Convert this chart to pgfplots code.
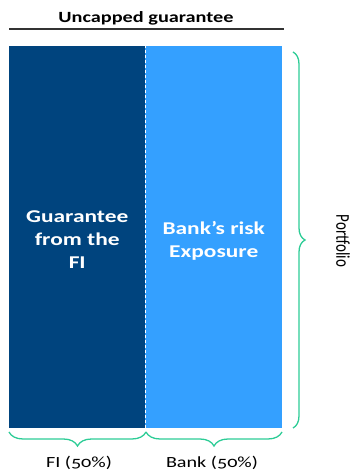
\documentclass[border=0pt]{standalone}
\usepackage{pgfplots}
\pgfplotsset{compat=1.18}
\usepackage{graphicx}
\usepackage{fontspec}
\setmainfont{Carlito}[Numbers=OldStyle]
\usetikzlibrary{decorations.pathreplacing}
\definecolor{darkb}{RGB}{0,68,126}
\definecolor{lightb}{RGB}{52,160,255}
\definecolor{brgreen}{RGB}{45,204,150}
\begin{document}
\begin{tikzpicture}
\path[use as bounding box] (0pt,0pt) rectangle (353pt,472pt);
\begin{axis}[at={(9pt,44pt)}, anchor=south west, scale only axis,
  width=273pt, height=382pt, xmin=0, xmax=2, ymin=0, ymax=1,
  axis lines=none, ybar, bar width=1, bar shift=0pt, clip=false]
\addplot[fill=darkb, draw=none] coordinates {(0.5,1)};
\addplot[fill=lightb, draw=none] coordinates {(1.5,1)};
\draw[white, line width=0.8pt, dash pattern=on 3pt off 2pt] (axis cs:1,0) -- (axis cs:1,1);
\node[white, align=center, font=\fontsize{18}{23}\selectfont\bfseries] at (axis cs:0.5,0.492) {\scalebox{1.3}[1]{Guarantee}\\\scalebox{1.3}[1]{from the}\\\scalebox{1.3}[1]{FI}};
\node[white, align=center, font=\fontsize{18}{23}\selectfont\bfseries] at (axis cs:1.5,0.49) {\scalebox{1.3}[1]{Bank’s risk}\\\scalebox{1.3}[1]{Exposure}};
\end{axis}
\draw[black!80, line width=1.1pt] (9pt,443pt) -- (284pt,443pt);
\node[font=\fontsize{15.6}{18}\selectfont\bfseries] at (146pt,454pt) {\scalebox{1.3}[1]{Uncapped guarantee}};
\draw[brgreen, line width=1.3pt, decorate, decoration={brace, amplitude=12pt}] (293pt,420pt) -- (293pt,44pt);
\draw[brgreen, line width=1.3pt, decorate, decoration={brace, amplitude=14pt}] (146pt,40pt) -- (9pt,40pt);
\draw[brgreen, line width=1.3pt, decorate, decoration={brace, amplitude=14pt}] (282pt,40pt) -- (146pt,40pt);
\node[font=\fontsize{15.5}{18}\selectfont] at (79pt,9pt) {\scalebox{1.3}[1]{FI (50\%)}};
\node[font=\fontsize{15.5}{18}\selectfont] at (212pt,9pt) {\scalebox{1.3}[1]{Bank (50\%)}};
\node[font=\fontsize{15}{18}\selectfont, rotate=-90] at (343pt,231pt) {\scalebox{1}[1.3]{Portfolio}};
\end{tikzpicture}
\end{document}
